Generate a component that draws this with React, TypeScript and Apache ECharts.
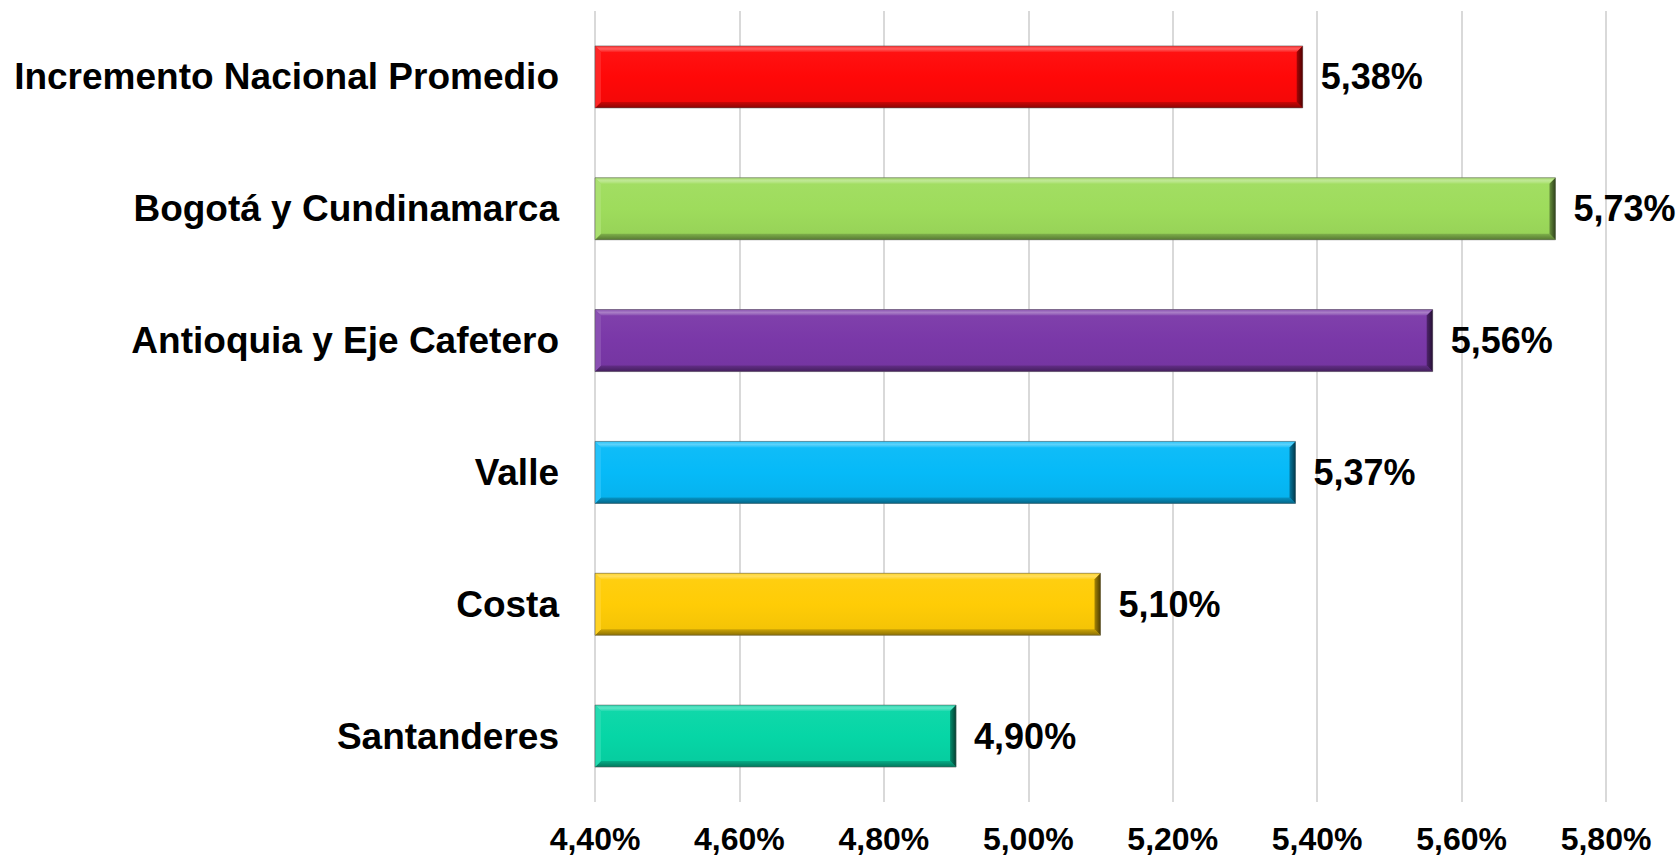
import React, { useEffect, useRef } from "react";
import * as echarts from "echarts";

const categories = [
  "Incremento Nacional Promedio",
  "Bogotá y Cundinamarca",
  "Antioquia y Eje Cafetero",
  "Valle",
  "Costa",
  "Santanderes",
];
const valuesPct = [5.38, 5.73, 5.56, 5.37, 5.1, 4.9];
const barColors = ["#FF0808", "#9EDC5C", "#7A38A8", "#06BAF8", "#FFCC06", "#06D6A6"];
const axisMinPct = 4.4;
const axisMaxPct = 5.8;
const axisStepPct = 0.2;

const toUnits = (p: number) => Math.round(p * 100);
const fmt = (u: number) => (u / 100).toFixed(2).replace(".", ",") + "%";

function shade(hex: string, f: number): string {
  const n = parseInt(hex.slice(1), 16);
  let r = (n >> 16) & 255, g = (n >> 8) & 255, b = n & 255;
  if (f >= 0) {
    r = r + (255 - r) * f; g = g + (255 - g) * f; b = b + (255 - b) * f;
  } else {
    r = r * (1 + f); g = g * (1 + f); b = b * (1 + f);
  }
  return `rgb(${Math.round(r)},${Math.round(g)},${Math.round(b)})`;
}

export default function App() {
  const ref = useRef<HTMLDivElement>(null);
  useEffect(() => {
    if (!ref.current) return;
    const chart = echarts.init(ref.current, undefined, { renderer: "svg" });
    const units = valuesPct.map(toUnits);
    const minU = toUnits(axisMinPct);
    const font = '"Liberation Sans", Arial, sans-serif';
    chart.setOption({
      animation: false,
      backgroundColor: "#ffffff",
      grid: { left: 595, right: 74, top: 11, bottom: 56, containLabel: false },
      xAxis: {
        type: "value",
        min: minU,
        max: toUnits(axisMaxPct),
        interval: toUnits(axisStepPct),
        axisLine: { show: false },
        axisTick: { show: false },
        splitLine: { show: true, lineStyle: { color: "#D9D9D9", width: 2 } },
        axisLabel: {
          formatter: (v: number) => fmt(v),
          fontSize: 32,
          fontWeight: "bold",
          color: "#000",
          fontFamily: font,
          margin: 21,
        },
      },
      yAxis: {
        type: "category",
        inverse: true,
        data: categories,
        axisLine: { show: false },
        axisTick: { show: false },
        splitLine: { show: false },
        axisLabel: {
          fontSize: 37,
          fontWeight: "bold",
          color: "#000",
          fontFamily: font,
          margin: 36,
        },
      },
      series: [
        {
          type: "bar",
          barWidth: 62,
          data: units,
          itemStyle: { color: "rgba(0,0,0,0)" },
          label: {
            show: true,
            position: "right",
            distance: 18,
            formatter: (p: any) => fmt(p.value),
            fontSize: 36,
            fontWeight: "bold",
            color: "#000",
            fontFamily: font,
          },
          z: 3,
        },
        {
          type: "custom",
          data: units.map((u, i) => [u, i]),
          encode: { x: 0, y: 1 },
          z: 2,
          renderItem: (params: any, api: any) => {
            const val = api.value(0);
            const idx = api.value(1);
            const start = api.coord([minU, idx]);
            const end = api.coord([val, idx]);
            const h = 62;
            const x0 = start[0];
            const x1 = end[0];
            const y0 = start[1] - h / 2;
            const y1 = y0 + h;
            const b = 6;
            const c = barColors[params.dataIndex];
            return {
              type: "group",
              children: [
                {
                  type: "rect",
                  shape: { x: x0, y: y0, width: x1 - x0, height: h },
                  style: {
                    fill: {
                      type: "linear", x: 0, y: 0, x2: 0, y2: 1,
                      colorStops: [
                        { offset: 0, color: shade(c, 0.05) },
                        { offset: 0.5, color: c },
                        { offset: 1, color: shade(c, -0.05) },
                      ],
                    },
                  },
                },
                {
                  type: "polygon",
                  shape: { points: [[x0, y0], [x1, y0], [x1 - b, y0 + b], [x0 + b, y0 + b]] },
                  style: {
                    fill: {
                      type: "linear", x: 0, y: 0, x2: 0, y2: 1,
                      colorStops: [
                        { offset: 0, color: shade(c, 0.15) },
                        { offset: 0.5, color: shade(c, 0.35) },
                        { offset: 1, color: shade(c, 0.1) },
                      ],
                    },
                  },
                },
                {
                  type: "polygon",
                  shape: { points: [[x0, y1], [x1, y1], [x1 - b, y1 - b], [x0 + b, y1 - b]] },
                  style: {
                    fill: {
                      type: "linear", x: 0, y: 0, x2: 0, y2: 1,
                      colorStops: [
                        { offset: 0, color: shade(c, -0.2) },
                        { offset: 1, color: shade(c, -0.45) },
                      ],
                    },
                  },
                },
                {
                  type: "polygon",
                  shape: { points: [[x0, y0], [x0 + b, y0 + b], [x0 + b, y1 - b], [x0, y1]] },
                  style: { fill: shade(c, 0.12) },
                },
                {
                  type: "polygon",
                  shape: { points: [[x1, y0], [x1 - b, y0 + b], [x1 - b, y1 - b], [x1, y1]] },
                  style: {
                    fill: {
                      type: "linear", x: 0, y: 0, x2: 1, y2: 0,
                      colorStops: [
                        { offset: 0, color: shade(c, -0.35) },
                        { offset: 1, color: shade(c, -0.7) },
                      ],
                    },
                  },
                },
                {
                  type: "rect",
                  shape: { x: x0, y: y0, width: x1 - x0, height: h },
                  style: { fill: "none", stroke: "rgba(90,90,90,0.55)", lineWidth: 1 },
                },
              ],
            };
          },
        },
      ],
    });
    return () => chart.dispose();
  }, []);
  return (
    <div
      ref={ref}
      style={{ position: "absolute", left: 0, top: 0, width: 1680, height: 858 }}
    />
  );
}
